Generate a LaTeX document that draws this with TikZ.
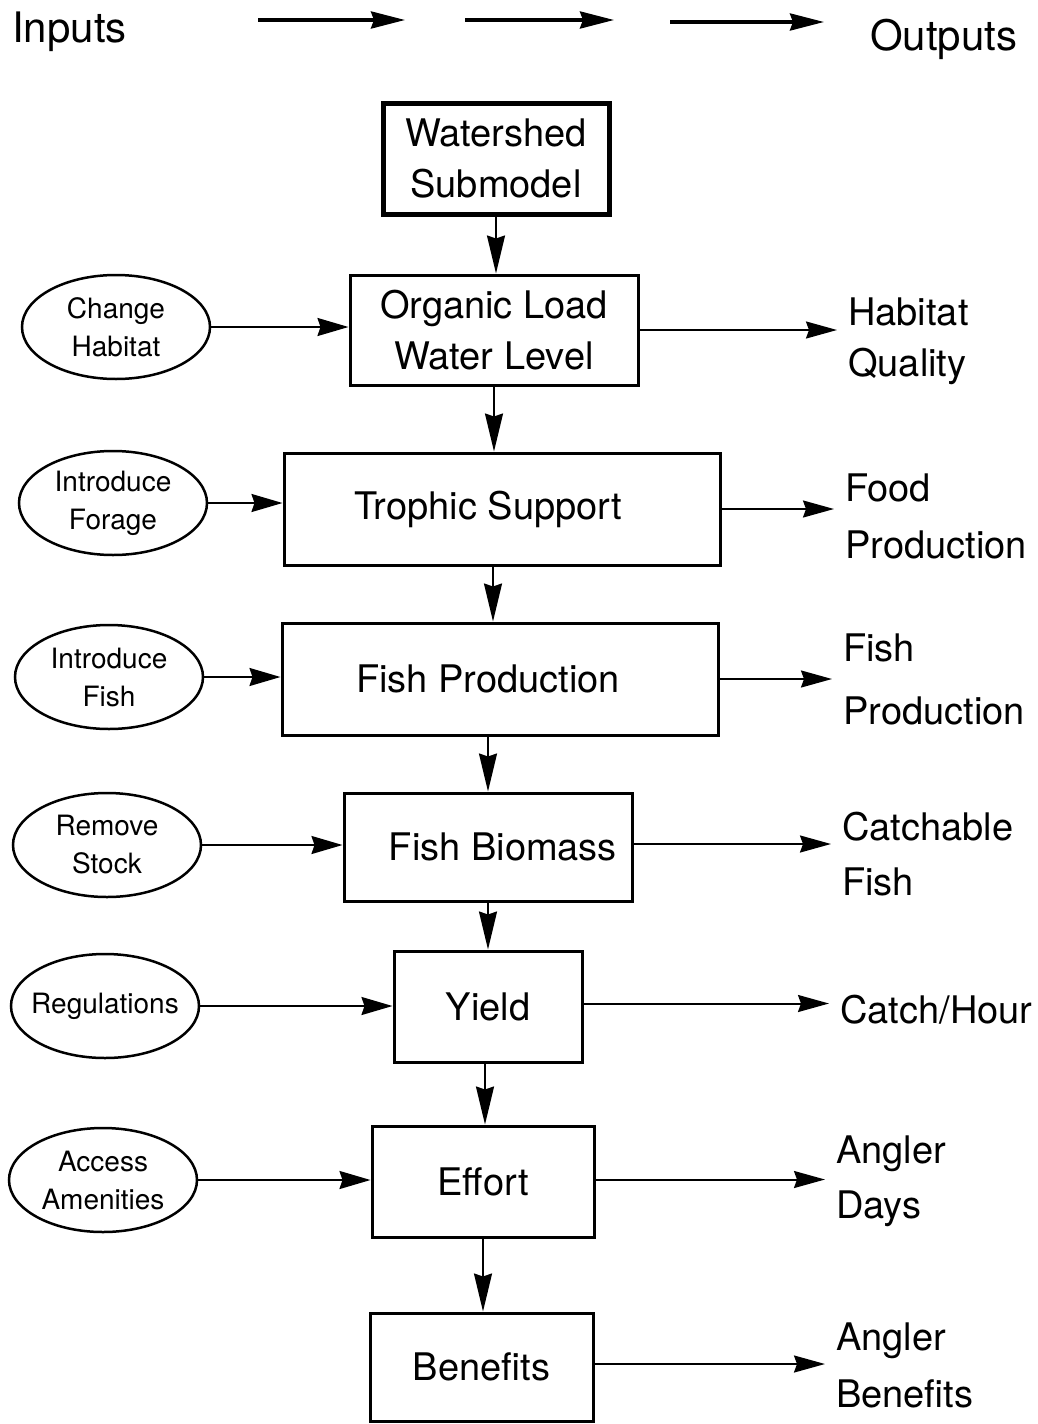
\documentclass[tikz,border=0pt]{standalone}
\usepackage{fontspec}
\setmainfont{TeX Gyre Heros}
\usetikzlibrary{shapes.geometric,arrows.meta}
\begin{document}
\begin{tikzpicture}[x=1pt,y=-1pt,
  model/.style={draw, line width=3pt, rectangle, inner sep=0pt, align=center,
    font=\fontsize{38}{51}\selectfont},
  action/.style={draw, line width=2.5pt, ellipse, inner ysep=0pt, inner xsep=-8pt, align=center,
    minimum width=188pt, minimum height=104pt, font=\fontsize{28}{38}\selectfont},
  result/.style={anchor=west, inner sep=0pt, align=left, font=\fontsize{38}{55}\selectfont},
  title/.style={anchor=west, inner sep=0pt, font=\fontsize{42}{50}\selectfont},
  flow/.style={line width=2pt, -{Stealth[length=38pt,width=18pt,inset=3pt]}},
  feed/.style={line width=2pt, -{Stealth[length=31pt,width=18pt,inset=3pt]}},
  yield/.style={line width=2pt, shorten >=11pt, -{Stealth[length=31pt,width=17pt,inset=3pt]}},
  header/.style={line width=3.5pt, -{Stealth[length=34pt,width=17pt,inset=3pt]}}]

\useasboundingbox (0,0) rectangle (1037,1424);

% headings
\node[title] (inputs) at (12,32) {Inputs};
\node[title] (outputs) at (870,39) {Outputs};
\coordinate (h1a) at (258,20); \coordinate (h1b) at (405,20);
\coordinate (h2a) at (465,20); \coordinate (h2b) at (614,20);
\coordinate (h3a) at (670,22); \coordinate (h3b) at (824,22);
\draw[header] (h1a) -- (h1b);
\draw[header] (h2a) -- (h2b);
\draw[header] (h3a) -- (h3b);

% model chain
\node[model, line width=5pt, minimum width=226pt, minimum height=111pt] (ws) at (496,158.5) {Watershed\\Submodel};
\node[model, minimum width=288pt, minimum height=110pt] (org) at (494,330) {Organic Load\\Water Level};
\node[model, minimum width=436pt, minimum height=112pt] (tro) at (502,509) {Trophic Support\kern28pt};
\node[model, minimum width=436pt, minimum height=112pt] (fpr) at (500,679) {Fish Production\kern24pt};
\node[model, minimum width=288pt, minimum height=108pt] (fbm) at (488,847) {\kern30pt Fish Biomass};
\node[model, minimum width=188pt, minimum height=111pt] (yld) at (488,1006.5) {Yield};
\node[model, minimum width=222pt, minimum height=111pt] (eff) at (483,1181.5) {Effort};
\node[model, minimum width=223pt, minimum height=108pt] (ben) at (481.5,1367) {Benefits};

\draw[flow] (ws.south) -- (ws.south |- org.north);
\draw[flow] (org.south) -- (org.south |- tro.north);
\draw[flow] ([xshift=-9pt]tro.south) -- ([xshift=-9pt]tro.south |- fpr.north);
\draw[flow] (fbm.north |- fpr.south) -- (fbm.north);
\draw[flow] (fbm.south) -- (fbm.south |- yld.north);
\draw[flow] ([xshift=-3pt]yld.south) -- ([xshift=-3pt]yld.south |- eff.north);
\draw[flow] (eff.south) -- (eff.south |- ben.north);

% management actions
\node[action] (ch)  at (116,327) {Change\\Habitat};
\node[action] (if)  at (113,503) {Introduce\\Forage};
\node[action] (ifi) at (109,677) {Introduce\\Fish};
\node[action] (rs)  at (107,845) {Remove\\Stock};
\node[action] (reg) at (105,1006) {Regulations};
\node[action] (aa)  at (103,1180) {Access\\Amenities};

\draw[feed] (ch.east)  -- (ch.east -| org.west);
\draw[feed] (if.east)  -- (if.east -| tro.west);
\draw[feed] (ifi.east) -- (ifi.east -| fpr.west);
\draw[feed] (rs.east)  -- (rs.east -| fbm.west);
\draw[feed] (reg.east) -- (reg.east -| yld.west);
\draw[feed] (aa.east)  -- (aa.east -| eff.west);

% outputs
\node[result, font=\fontsize{38}{51}\selectfont] (hq) at (848,341) {Habitat\\Quality};
\node[result, font=\fontsize{38}{57}\selectfont] (fp) at (845,516) {Food\\Production};
\node[result, font=\fontsize{38}{63}\selectfont] (fi) at (843,679) {Fish\\Production};
\node[result] (cf) at (842,854) {Catchable\\Fish};
\node[result] (ch2) at (840,1010) {Catch/Hour};
\node[result] (ad) at (836,1181) {Angler\\Days};
\node[result, font=\fontsize{38}{57}\selectfont] (ab) at (836,1365) {Angler\\Benefits};

\draw[yield] (org.east) -- (org.east -| hq.west);
\draw[yield] (tro.east) -- (tro.east -| fp.west);
\draw[yield] (fpr.east) -- (fpr.east -| fi.west);
\draw[yield] ([yshift=3pt]fbm.east) -- ([yshift=3pt]fbm.east -| cf.west);
\draw[yield] ([yshift=3pt]yld.east) -- ([yshift=3pt]yld.east -| ch2.west);
\draw[yield] ([yshift=2pt]eff.east) -- ([yshift=2pt]eff.east -| ad.west);
\draw[yield] ([yshift=3pt]ben.east) -- ([yshift=3pt]ben.east -| ab.west);
\end{tikzpicture}
\end{document}
